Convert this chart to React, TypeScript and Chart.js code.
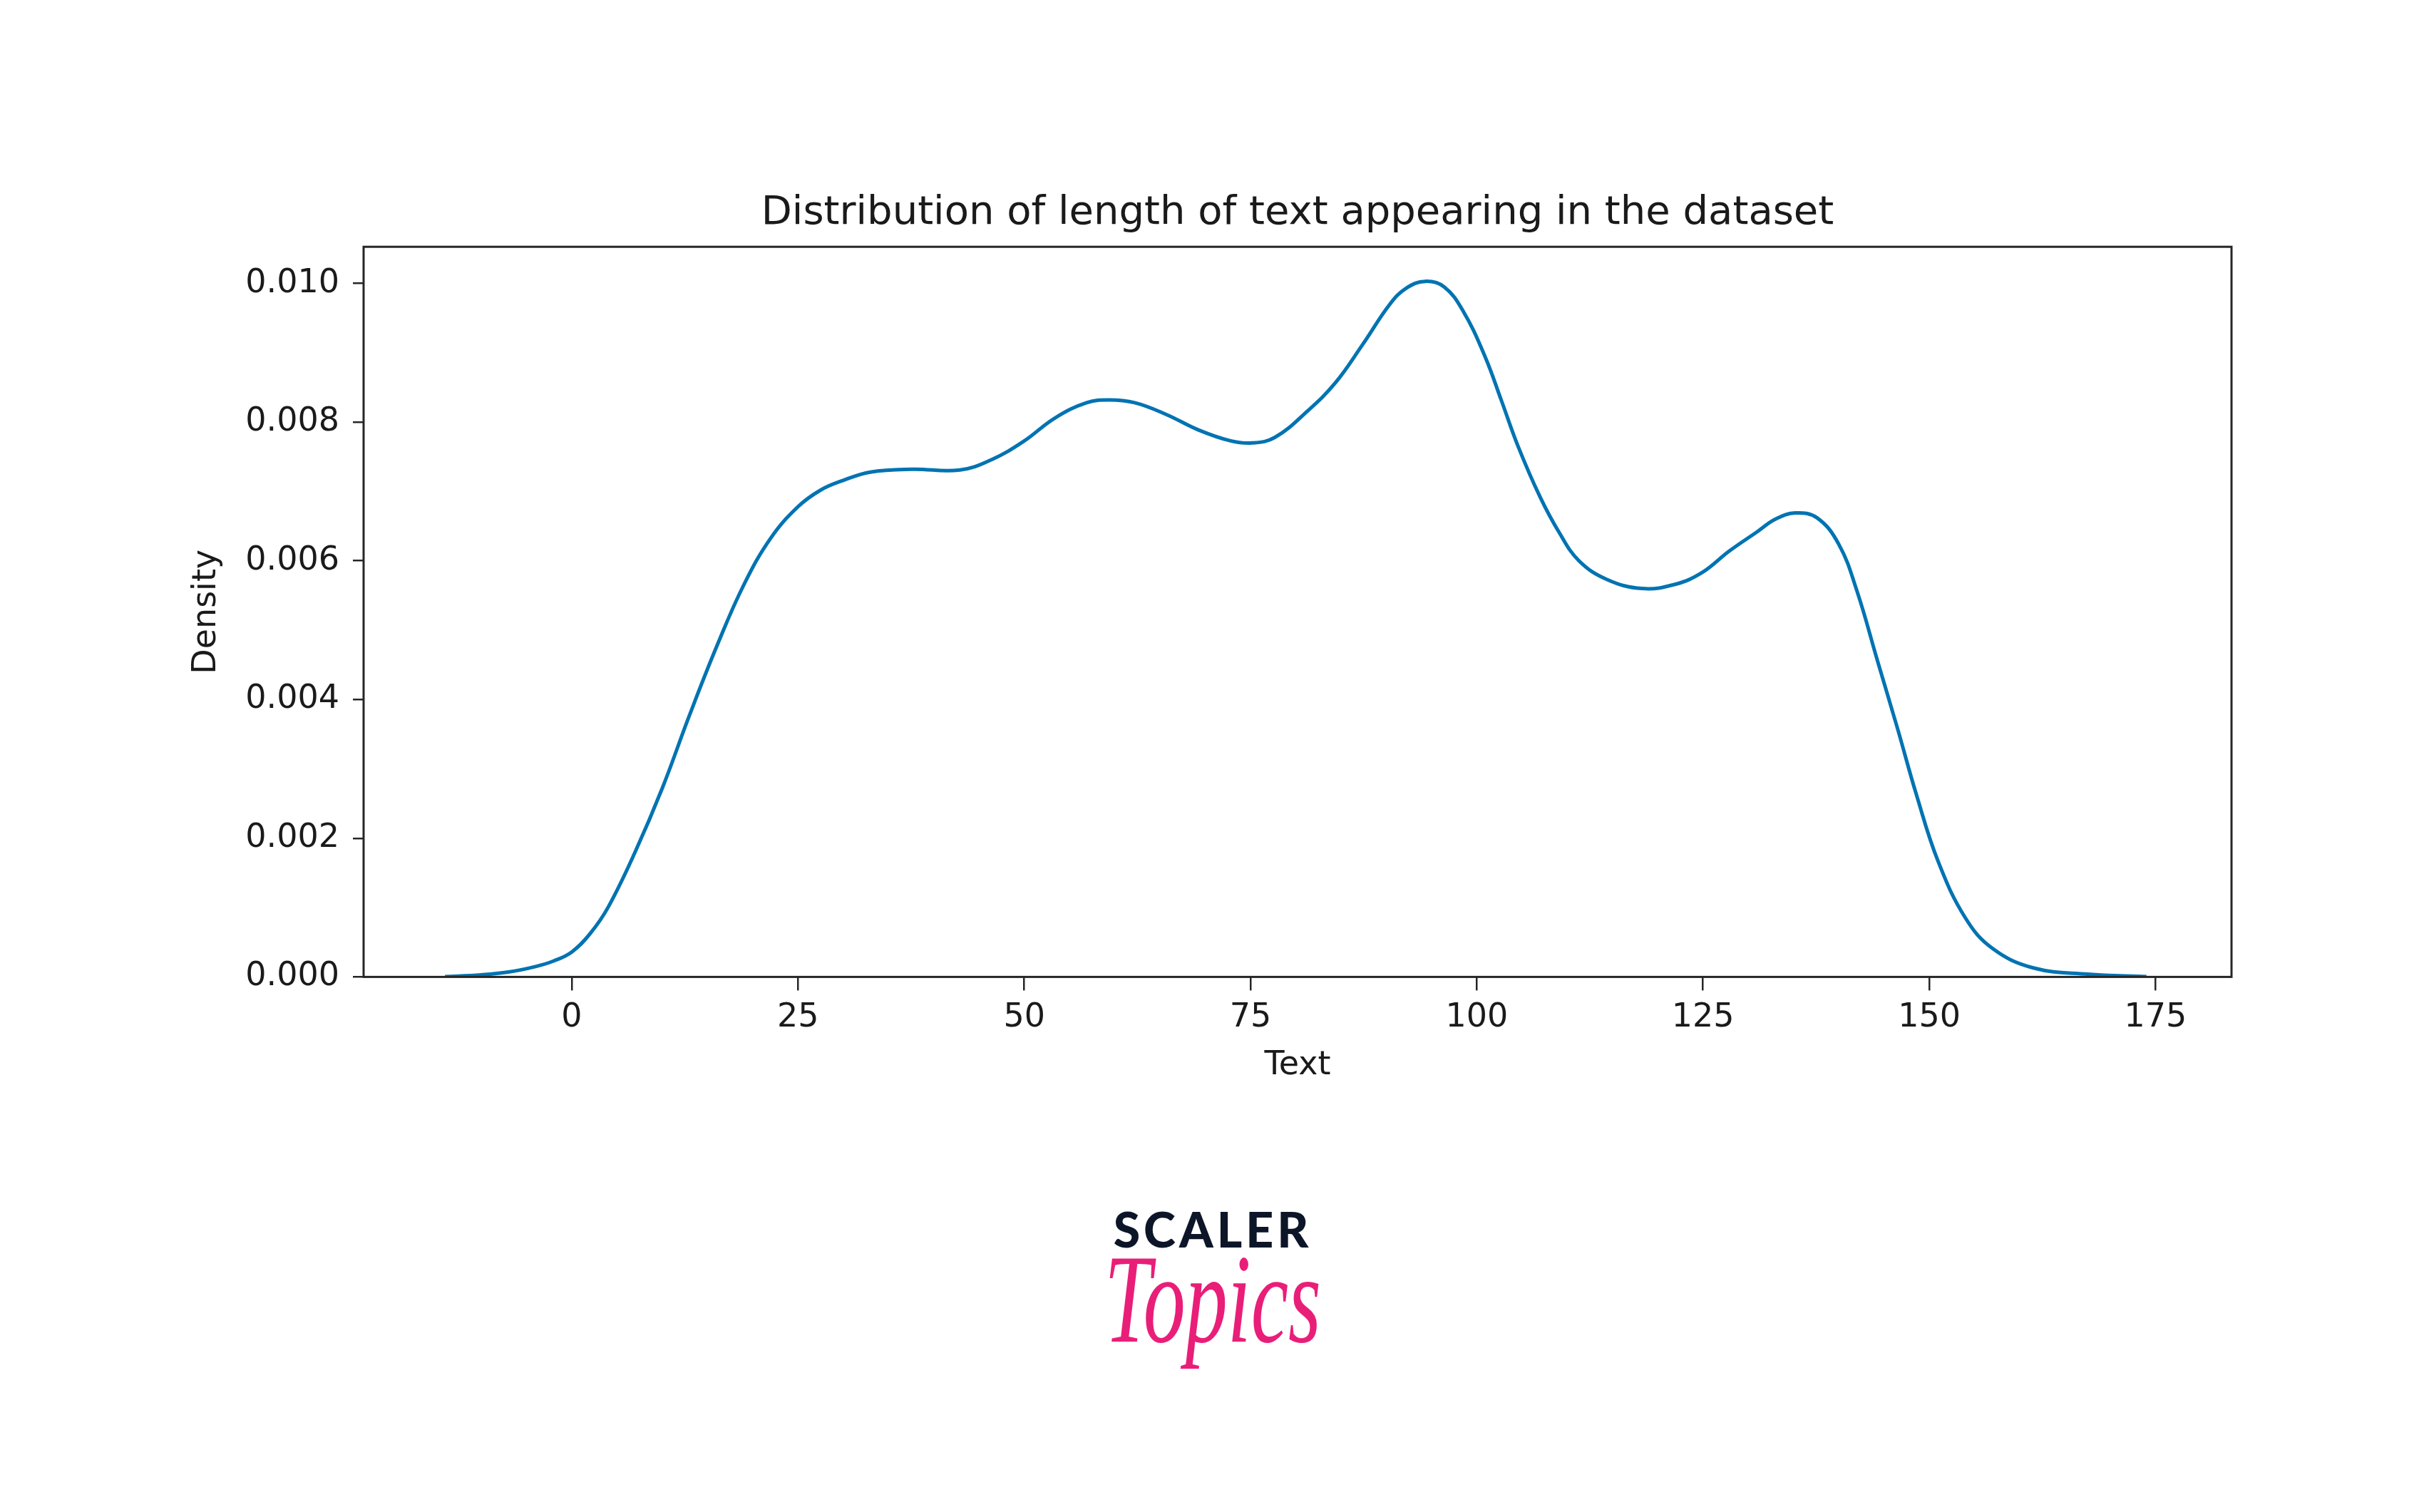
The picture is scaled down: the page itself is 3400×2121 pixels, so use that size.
import React, { useEffect, useRef } from "react";
import { Chart, registerables } from "chart.js";

Chart.register(...registerables);

const chartTitle = "Distribution of length of text appearing in the dataset";
const xAxisLabel = "Text";
const yAxisLabel = "Density";
const xTickValues = [0, 25, 50, 75, 100, 125, 150, 175];
const yTickValues = [0, 0.002, 0.004, 0.006, 0.008, 0.01];

const textLength = [
  -14, -10, -7, -4, -2, 0, 2, 4, 7, 10, 13, 16, 19, 22, 25, 27.5, 30, 33, 37.6,
  42.9, 46.4, 49.9, 53.4, 56.9, 59.4, 62.2, 65.7, 69.2, 72.8, 75.2, 77.7, 81.3,
  84.4, 87.4, 90.4, 92.2, 94.3, 96.4, 98.5, 100.9, 102.7, 104.6, 107.0, 109.1,
  111.3, 114.4, 118.3, 121.9, 124.9, 127.9, 130.9, 133.0, 135.2, 137.6, 140.0,
  142.0, 144.3, 146.5, 148.6, 151.0, 154.0, 157.0, 161.5, 167.5, 174.0,
];
const density = [
  0.000005, 0.00003, 0.00007, 0.00015, 0.00023, 0.00036, 0.00062, 0.001,
  0.0018, 0.00272, 0.00377, 0.00476, 0.00565, 0.00633, 0.00678, 0.00702,
  0.00716, 0.00728, 0.00732, 0.00731, 0.00746, 0.00772, 0.00806, 0.00828,
  0.00832, 0.00828, 0.00811, 0.00789, 0.00773, 0.0077, 0.00778, 0.00816,
  0.00857, 0.00912, 0.0097, 0.00993, 0.01003, 0.00995, 0.0096, 0.00895,
  0.00832, 0.00764, 0.00692, 0.00641, 0.006, 0.00573, 0.0056, 0.00566, 0.00583,
  0.00614, 0.00641, 0.0066, 0.00669, 0.00662, 0.00624, 0.00557, 0.00455,
  0.00358, 0.00262, 0.00166, 0.00085, 0.00041, 0.00013, 0.00004, 0.000005,
];

const textColor = "#1a1a1a";
const spineColor = "#262626";
const lineColor = "#0173B2";
const fontFamily = "'DejaVu Sans', sans-serif";

export default function App() {
  const ref = useRef<HTMLCanvasElement>(null);

  useEffect(() => {
    document.body.style.margin = "0";
    const canvas = ref.current!;
    const framePlugin = {
      id: "frame",
      afterDraw(chart: any) {
        const { ctx, chartArea: a } = chart;
        ctx.save();
        ctx.strokeStyle = spineColor;
        ctx.lineWidth = 3;
        ctx.strokeRect(a.left, a.top, a.right - a.left, a.bottom - a.top);
        ctx.restore();
      },
    };
    const tickFont = { family: fontFamily, size: 46, weight: "normal" as const };
    const chart = new Chart(canvas, {
      type: "line",
      data: {
        datasets: [
          {
            data: textLength.map((x, i) => ({ x, y: density[i] })),
            borderColor: lineColor,
            borderWidth: 5,
            pointRadius: 0,
            tension: 0.4,
            fill: false,
          },
        ],
      },
      options: {
        responsive: false,
        animation: false,
        devicePixelRatio: 1,
        layout: { padding: { top: 0, left: 0, right: 270, bottom: 598 } },
        plugins: {
          legend: { display: false },
          tooltip: { enabled: false },
          title: {
            display: true,
            fullSize: false,
            text: chartTitle,
            color: textColor,
            font: { family: fontFamily, size: 56, weight: "normal" },
            padding: { top: 266, bottom: 13 },
          },
        },
        scales: {
          x: {
            type: "linear",
            min: -23,
            max: 183.4,
            afterBuildTicks: (s: any) => {
              s.ticks = xTickValues.map((v) => ({ value: v }));
            },
            afterFit: (s: any) => {
              s.height = 152.6;
            },
            grid: {
              drawOnChartArea: false,
              drawTicks: true,
              tickLength: 19,
              color: spineColor,
              lineWidth: 2.5,
            },
            border: { display: false },
            ticks: {
              color: textColor,
              font: tickFont,
              padding: 11,
              maxRotation: 0,
              autoSkip: false,
              callback: (v: any) => String(v),
            },
            title: {
              display: true,
              text: xAxisLabel,
              color: textColor,
              font: tickFont,
              padding: { top: 0, bottom: 0 },
            },
          },
          y: {
            type: "linear",
            min: 0,
            max: 0.010528,
            afterBuildTicks: (s: any) => {
              s.ticks = yTickValues.map((v) => ({ value: v }));
            },
            afterFit: (s: any) => {
              s.width = 510;
            },
            grid: {
              drawOnChartArea: false,
              drawTicks: true,
              tickLength: 15,
              color: spineColor,
              lineWidth: 2.5,
            },
            border: { display: false },
            ticks: {
              color: textColor,
              font: tickFont,
              padding: 19,
              autoSkip: false,
              callback: (v: any) => Number(v).toFixed(3),
            },
            title: {
              display: true,
              text: yAxisLabel,
              color: textColor,
              font: tickFont,
              padding: { top: 262, bottom: 0 },
            },
          },
        },
      },
      plugins: [framePlugin],
    } as any);
    return () => chart.destroy();
  }, []);

  return (
    <div style={{ position: "relative", width: 3400, height: 2121, background: "#ffffff", overflow: "hidden" }}>
      <canvas ref={ref} width={3400} height={2121} style={{ position: "absolute", left: 0, top: 0 }} />
      <div
        style={{
          position: "absolute",
          left: 1501,
          width: 400,
          top: 1690,
          textAlign: "center",
          fontFamily: "Lato, 'Open Sans', sans-serif",
          fontWeight: 900,
          fontSize: 68,
          lineHeight: 1,
          letterSpacing: 5,
          color: "#0d1628",
        }}
      >
        SCALER
      </div>
      <div
        style={{
          position: "absolute",
          left: 1451,
          width: 500,
          top: 1735,
          textAlign: "center",
          fontFamily: "'Liberation Serif', serif",
          fontStyle: "italic",
          fontSize: 118,
          lineHeight: 1,
          color: "#e91e78",
          transform: "scale(1, 1.5)",
          transformOrigin: "center top",
        }}
      >
        Topics
      </div>
    </div>
  );
}
